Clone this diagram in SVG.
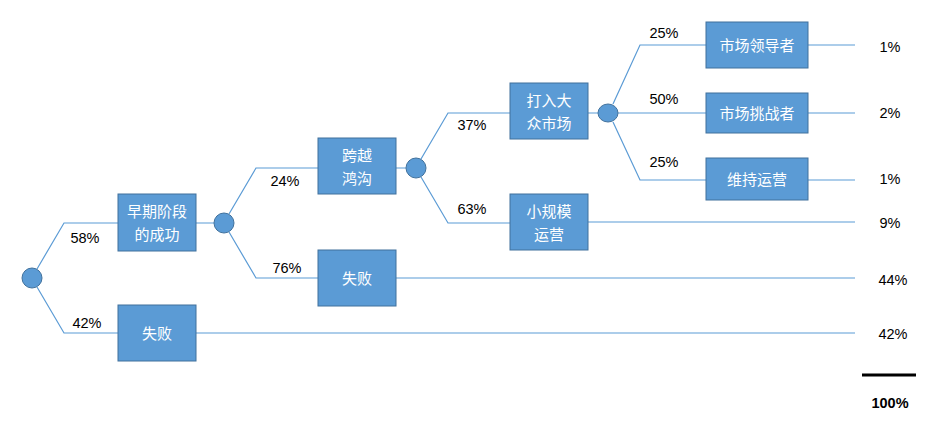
<svg xmlns="http://www.w3.org/2000/svg" width="928" height="432" viewBox="0 0 928 432">
<style>
.b{fill:#5B9BD5;stroke:#41719C;stroke-width:1}
.c{fill:#5B9BD5;stroke:#41719C;stroke-width:1}
.l{fill:none;stroke:#5B9BD5;stroke-width:1.2}
.t{font-family:"Noto Sans CJK SC","Noto Sans",sans-serif;font-size:15px;fill:#fff;text-anchor:middle}
.p{font-family:"Liberation Sans",Arial,sans-serif;font-size:14.5px;fill:#000;text-anchor:middle}
</style>
<rect width="928" height="432" fill="#fff"/>
<g id="connectors">
<path class="l" d="M37,269 L64,223 H118 M37,287 L64,333 H118"/>
<path class="l" d="M196,223 H214 M229,214 L256,168 H318 M229,232 L256,278 H318"/>
<path class="l" d="M396,168 H406 M421,159 L448,113 H510 M421,177 L448,223 H510"/>
<path class="l" d="M588,113 H598 M613,104 L640,45 H706 M618,113 H706 M613,122 L640,180 H706"/>
<path class="l" d="M808,45 H855 M808,113 H855 M808,180 H855 M588,222 H855 M396,278 H855 M196,333 H855"/>
<line x1="862" y1="375" x2="916" y2="375" stroke="#000" stroke-width="3"/>
</g>
<g id="n0"><circle class="c" cx="32" cy="278" r="10"/></g>
<g id="n1"><circle class="c" cx="224" cy="223" r="10"/></g>
<g id="n2"><circle class="c" cx="416" cy="168" r="10"/></g>
<g id="n3"><ellipse class="c" cx="608" cy="113" rx="10" ry="9"/></g>
<g id="early"><rect class="b" x="118" y="194" width="78" height="57"/><text class="t" x="157" y="217">早期阶段</text><text class="t" x="157" y="240">的成功</text></g>
<g id="fail1"><rect class="b" x="118" y="305" width="78" height="56"/><text class="t" x="157" y="339">失败</text></g>
<g id="chasm"><rect class="b" x="318" y="138" width="78" height="56"/><text class="t" x="357" y="161">跨越</text><text class="t" x="357" y="184">鸿沟</text></g>
<g id="fail2"><rect class="b" x="318" y="250" width="78" height="56"/><text class="t" x="357" y="284">失败</text></g>
<g id="mass"><rect class="b" x="510" y="83" width="78" height="56"/><text class="t" x="549" y="106">打入大</text><text class="t" x="549" y="129">众市场</text></g>
<g id="small"><rect class="b" x="510" y="194" width="78" height="56"/><text class="t" x="549" y="217">小规模</text><text class="t" x="549" y="240">运营</text></g>
<g id="leader"><rect class="b" x="706" y="22" width="102" height="46"/><text class="t" x="757" y="51">市场领导者</text></g>
<g id="challenger"><rect class="b" x="706" y="93" width="102" height="40"/><text class="t" x="757" y="119">市场挑战者</text></g>
<g id="maintain"><rect class="b" x="706" y="158" width="102" height="42"/><text class="t" x="757" y="185">维持运营</text></g>
<g id="labels">
<text class="p" x="85" y="243">58%</text><text class="p" x="87" y="328">42%</text>
<text class="p" x="285" y="186">24%</text><text class="p" x="287" y="273">76%</text>
<text class="p" x="472" y="130">37%</text><text class="p" x="472" y="214">63%</text>
<text class="p" x="664" y="38">25%</text><text class="p" x="664" y="104">50%</text><text class="p" x="664" y="167">25%</text>
<text class="p" x="890" y="52">1%</text><text class="p" x="890" y="118">2%</text><text class="p" x="890" y="184">1%</text>
<text class="p" x="890" y="228">9%</text><text class="p" x="893" y="285">44%</text><text class="p" x="893" y="339">42%</text>
<text class="p" x="890" y="408" font-weight="bold">100%</text>
</g>
</svg>
